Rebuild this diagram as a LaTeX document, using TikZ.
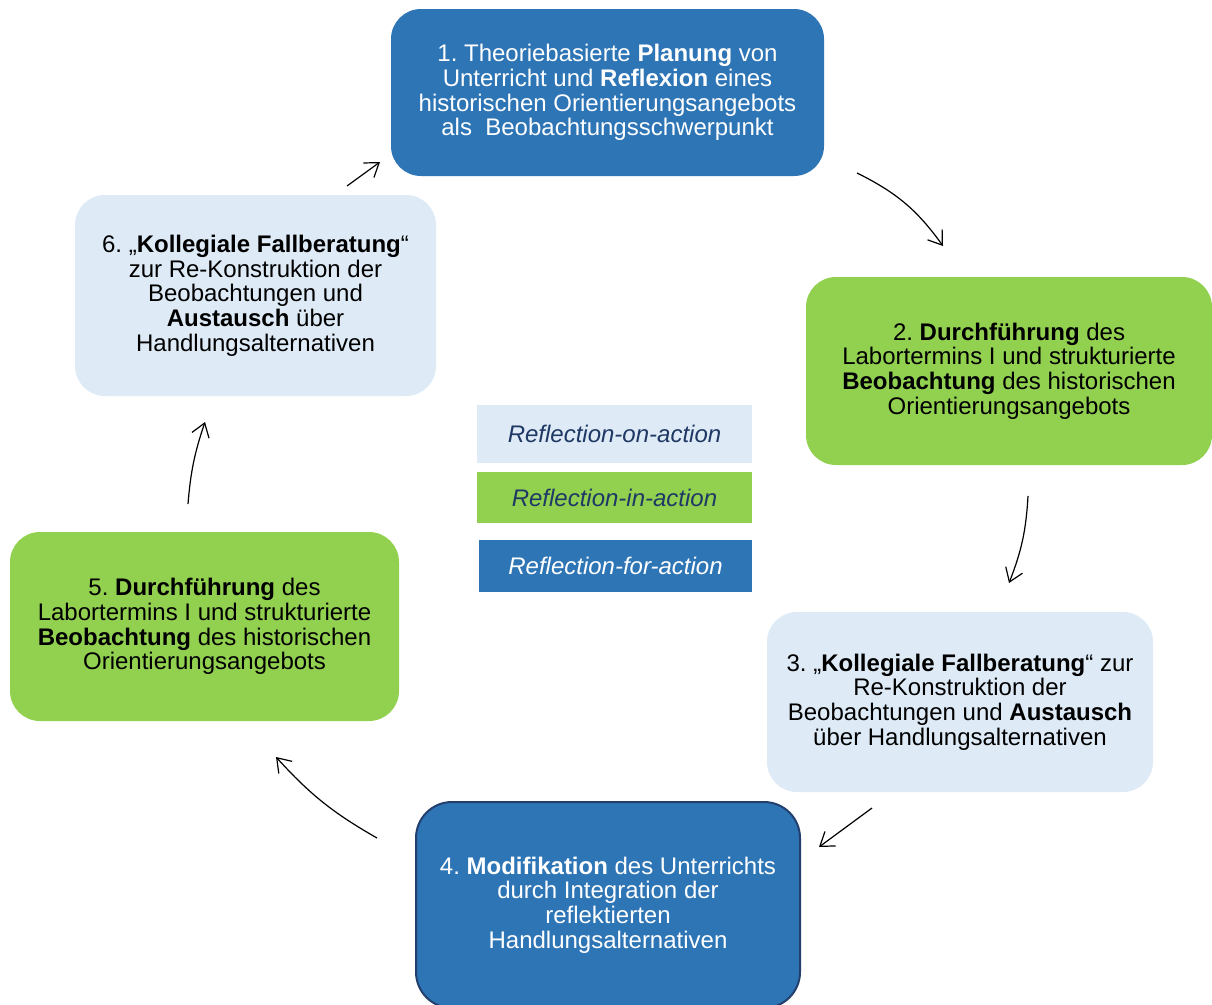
\documentclass[tikz,border=0pt]{standalone}
\usepackage{fontspec}
\setmainfont{Liberation Sans}
\usetikzlibrary{arrows.meta}
\frenchspacing
\definecolor{pblue}{HTML}{2E75B6}
\definecolor{pgreen}{HTML}{92D050}
\definecolor{plight}{HTML}{DEEBF7}
\definecolor{pnavy}{HTML}{223F6E}
\definecolor{ptext}{HTML}{1F3864}
\tikzset{
  stepbox/.style={rounded corners=30pt, inner sep=0pt, align=center,
    font=\fontsize{24}{24.7}\selectfont},
  bluebox/.style={stepbox, fill=pblue, text=white},
  greenbox/.style={stepbox, fill=pgreen, text=black},
  lightbox/.style={stepbox, fill=plight, text=black},
  legendbox/.style={inner sep=0pt, align=center,
    font=\fontsize{24}{24.7}\selectfont\itshape},
  arr/.style={draw=black, line width=1.2pt,
    -{Straight Barb[length=13pt,width=18pt,line width=1.2pt]}}
}
\begin{document}
\begin{tikzpicture}[x=1pt,y=-1pt]
\useasboundingbox (0,0) rectangle (1212,1004);
\fill[white] (0,0) rectangle (1212,1004);

\node[bluebox, minimum width=433pt, minimum height=167pt] (b1) at (607.5,92.5)
  {1. Theoriebasierte \textbf{Planung} von\\Unterricht und \textbf{Reflexion} eines\\historischen Orientierungsangebots\\als\ \ Beobachtungsschwerpunkt};
\node[greenbox, minimum width=406pt, minimum height=188pt] (b2) at (1009,371)
  {2. \textbf{Durchführung} des\\Labortermins I und strukturierte\\\textbf{Beobachtung} des historischen\\Orientierungsangebots};
\node[lightbox, minimum width=386pt, minimum height=180pt] (b3) at (960,702)
  {3. „\textbf{Kollegiale Fallberatung}“ zur\\Re-Konstruktion der\\Beobachtungen und \textbf{Austausch}\\über Handlungsalternativen};
\node[bluebox, draw=pnavy, line width=2pt, rounded corners=36pt, minimum width=384pt, minimum height=206pt] (b4) at (608,905)
  {4. \textbf{Modifikation} des Unterrichts\\durch Integration der\\reflektierten\\Handlungsalternativen};
\node[greenbox, minimum width=389pt, minimum height=189pt] (b5) at (204.5,626.5)
  {5. \textbf{Durchführung} des\\Labortermins I und strukturierte\\\textbf{Beobachtung} des historischen\\Orientierungsangebots};
\node[lightbox, minimum width=361pt, minimum height=201pt] (b6) at (255.5,295.5)
  {6. „\textbf{Kollegiale Fallberatung}“\\zur Re-Konstruktion der\\Beobachtungen und\\\textbf{Austausch} über\\Handlungsalternativen};

\node[legendbox, fill=plight, text=ptext, minimum width=275pt, minimum height=58pt] (l1) at (614.5,434) {Reflection-on-action};
\node[legendbox, fill=pgreen, text=ptext, minimum width=275pt, minimum height=51pt] (l2) at (614.5,497.5) {Reflection-in-action};
\node[legendbox, fill=pblue, text=white, minimum width=273pt, minimum height=52pt] (l3) at (615.5,566) {Reflection-for-action};

\coordinate (a61s) at (347,186);
\coordinate (a61e) at (380,162);
\coordinate (a12s) at (857,173);
\coordinate (a12e) at (943,246);
\coordinate (a23s) at (1028,496);
\coordinate (a23e) at (1009,583);
\coordinate (a34s) at (872,808);
\coordinate (a34e) at (819,847);
\coordinate (a45s) at (377,838);
\coordinate (a45e) at (276,757);
\coordinate (a56s) at (188,504);
\coordinate (a56e) at (205,422);

\draw[arr] (a61s) -- (a61e);
\draw[arr] (a12s) to[bend left=14] (a12e);
\draw[arr] (a23s) to[bend left=9] (a23e);
\draw[arr] (a34s) -- (a34e);
\draw[arr] (a45s) to[bend left=9] (a45e);
\draw[arr] (a56s) to[bend left=7] (a56e);
\end{tikzpicture}
\end{document}
